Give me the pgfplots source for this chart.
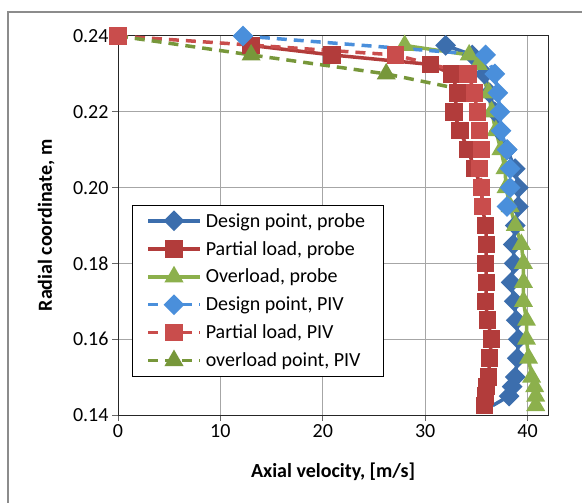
\documentclass[border=0pt]{standalone}
\usepackage{pgfplots}
\pgfplotsset{compat=1.18}
\usepackage{fontspec}
\setmainfont{Carlito}
\definecolor{dbP}{HTML}{3C6EAD}
\definecolor{dbV}{HTML}{4A8FDB}
\definecolor{rdP}{HTML}{B23C3B}
\definecolor{rdV}{HTML}{C94D4C}
\definecolor{grP}{HTML}{8CB04C}
\definecolor{grV}{HTML}{77973A}
\newcommand{\bigf}{\fontsize{20bp}{24bp}\selectfont}
\begin{document}
\begin{tikzpicture}
\path[use as bounding box] (0bp,0bp) rectangle (582bp,503bp);
\draw[color=black!45, line width=1.2bp] (8bp,0bp) -- (8bp,491bp) -- (582bp,491bp);
\begin{axis}[
  at={(118bp,88bp)}, anchor=south west,
  width=430bp, height=379bp, scale only axis,
  xmin=0, xmax=42, ymin=0.14, ymax=0.24,
  xtick={0,10,20,30,40},
  ytick={0.14,0.16,0.18,0.20,0.22,0.24},
  yticklabel style={/pgf/number format/.cd, fixed, fixed zerofill, precision=2},
  /pgf/number format/assume math mode=true,
  tick label style={font=\bigf},
  xtick pos=bottom, ytick pos=left,
  tick align=outside, major tick length=6bp,
  tick style={black!60, line width=1bp},
  grid=major,
  major grid style={black!35, line width=1bp},
  axis line style={black!85, line width=1bp},
  xlabel={\textbf{Axial velocity, [m/s]}},
  ylabel={\textbf{Radial coordinate, m}},
  label style={font=\bigf},
  xlabel style={at={(axis description cs:0.5,-0.15)}, anchor=center},
  ylabel style={at={(axis description cs:-0.167,0.5)}, anchor=center},
  legend style={at={(0.032,0.555)}, anchor=north west, draw=black, line width=1bp,
    fill=white, font=\bigf, row sep=8.6bp, inner xsep=14bp, inner ysep=6bp,
    nodes={inner xsep=4bp}},
  legend cell align=left,
  legend image code/.code={\draw[#1, mark indices={2}] plot coordinates {(0bp,0bp)(26bp,0bp)(52bp,0bp)};},
  every axis plot/.append style={line width=3.5bp},
]
\addplot[color=dbP, mark=square*, mark size=5.6bp, mark options={rotate=45, solid}, mark indices={1,...,21}] coordinates {
(32.0,0.2375) (34.6,0.235) (35.8,0.23) (36.3,0.225) (36.8,0.22) (37.3,0.215) (38.0,0.21) (38.8,0.205) (39.1,0.20) (39.1,0.195) (38.8,0.19) (38.6,0.185) (38.7,0.18) (38.4,0.175) (38.7,0.17) (38.9,0.165) (39.1,0.16) (39.0,0.155) (38.8,0.15) (38.5,0.1475) (38.2,0.145) (36.6,0.1425)};
\addlegendentry{Design point, probe}
\addplot[color=rdP, mark=square*, mark size=7bp, mark options={solid}] coordinates {
(13.0,0.2375) (20.9,0.235) (30.5,0.2325) (32.6,0.23) (33.2,0.225) (32.8,0.22) (33.4,0.215) (34.2,0.21) (34.8,0.205) (35.5,0.20) (35.6,0.195) (35.9,0.19) (36.0,0.185) (35.9,0.18) (36.0,0.175) (35.9,0.17) (36.1,0.165) (36.5,0.16) (36.3,0.155) (36.2,0.15) (36.0,0.1475) (35.9,0.145) (35.8,0.1425)};
\addlegendentry{Partial load, probe}
\addplot[color=grP, mark=triangle*, mark size=7.5bp, mark options={solid}] coordinates {
(28.0,0.2375) (34.3,0.235) (35.2,0.2325) (36.2,0.225) (36.5,0.22) (36.9,0.215) (37.4,0.21) (37.8,0.205) (37.9,0.20) (38.3,0.195) (38.8,0.19) (39.4,0.185) (39.6,0.18) (39.6,0.175) (39.6,0.17) (39.9,0.165) (39.9,0.16) (40.1,0.155) (40.4,0.15) (40.7,0.1475) (40.8,0.145) (40.8,0.1425)};
\addlegendentry{Overload, probe}
\addplot[color=dbV, dash pattern=on 10bp off 7bp, mark=square*, mark size=5.6bp, mark options={rotate=45, solid}] coordinates {
(12.2,0.24) (35.9,0.235) (36.8,0.23) (37.1,0.225) (37.3,0.22) (37.4,0.215) (38.0,0.21) (38.3,0.205) (38.3,0.20) (38.0,0.195)};
\addlegendentry{Design point, PIV}
\addplot[color=rdV, dash pattern=on 10bp off 7bp, mark=square*, mark size=7bp, mark options={solid}] coordinates {
(0,0.24) (27.1,0.235) (34.2,0.23) (34.8,0.225) (35.1,0.22) (35.3,0.215) (35.5,0.21) (35.3,0.205) (35.5,0.20) (35.6,0.195)};
\addlegendentry{Partial load, PIV}
\addplot[color=grV, dash pattern=on 10bp off 7bp, mark=triangle*, mark size=7.5bp, mark options={solid}, mark indices={2,3}] coordinates {
(0,0.24) (13.0,0.235) (26.2,0.23) (36.1,0.2245)};
\addlegendentry{overload point, PIV}
\end{axis}
\end{tikzpicture}
\end{document}
